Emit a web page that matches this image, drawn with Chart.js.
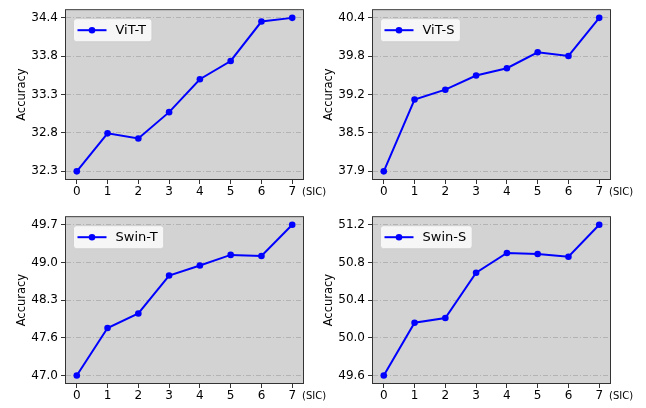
<!DOCTYPE html>
<html>
<head>
<meta charset="utf-8">
<script src="https://cdn.jsdelivr.net/npm/chart.js@4.4.1/dist/chart.umd.min.js"></script>
<style>
  html, body { margin: 0; padding: 0; background: #fff; }
  #wrap { position: relative; width: 646px; height: 408px; overflow: hidden; }
  canvas { position: absolute; }
</style>
</head>
<body>
<div id="wrap">
  <canvas id="vitT" width="320" height="204" style="left:15px;top:0px"></canvas>
  <canvas id="vitS" width="320" height="204" style="left:322px;top:0px"></canvas>
  <canvas id="swinT" width="320" height="201" style="left:15px;top:207px"></canvas>
  <canvas id="swinS" width="320" height="201" style="left:322px;top:207px"></canvas>
</div>
<script>
// x positions (SIC steps)
const sicSteps = [0, 1, 2, 3, 4, 5, 6, 7];

// accuracy per model
const vitTAcc  = [32.30, 32.82, 32.75, 33.11, 33.56, 33.81, 34.35, 34.40];
const vitSAcc  = [37.90, 39.07, 39.23, 39.46, 39.58, 39.84, 39.78, 40.40];
const swinTAcc = [47.00, 47.85, 48.11, 48.79, 48.97, 49.16, 49.14, 49.70];
const swinSAcc = [49.60, 50.16, 50.21, 50.69, 50.90, 50.89, 50.86, 51.20];

// y tick labels (evenly spaced between first and last)
const vitTTicks  = ['32.3', '32.8', '33.3', '33.8', '34.4'];
const vitSTicks  = ['37.9', '38.5', '39.2', '39.8', '40.4'];
const swinTTicks = ['47.0', '47.6', '48.3', '49.0', '49.7'];
const swinSTicks = ['49.6', '50.0', '50.4', '50.8', '51.2'];

const FONT = 'DejaVu Sans';
const BLUE = '#0000ff';

// background, frame, legend and the "(SIC)" note
const panelPlugin = {
    id: 'panel',
    beforeDraw(chart) {
        const { ctx, chartArea: a } = chart;
        ctx.save();
        ctx.fillStyle = '#d3d3d3';
        ctx.fillRect(a.left, a.top, a.right - a.left, a.bottom - a.top);
        ctx.restore();
    },
    afterDraw(chart) {
        const { ctx, chartArea: a } = chart;
        ctx.save();
        // frame
        ctx.strokeStyle = '#333';
        ctx.lineWidth = 1;
        ctx.strokeRect(a.left - 0.5, a.top - 0.5, a.right - a.left + 1, a.bottom - a.top + 1);

        // legend box
        const name = chart.data.datasets[0].label;
        ctx.font = '13px "' + FONT + '"';
        const tw = ctx.measureText(name).width;
        const bx = a.left + 7.5, by = a.top + 8.5, bw = 42 + tw + 6, bh = 23;
        ctx.beginPath();
        ctx.roundRect(bx, by, bw, bh, 3);
        ctx.fillStyle = 'rgba(255,255,255,0.8)';
        ctx.fill();
        ctx.strokeStyle = 'rgba(204,204,204,0.8)';
        ctx.stroke();
        const cy = by + bh / 2;
        ctx.strokeStyle = BLUE;
        ctx.lineWidth = 2;
        ctx.beginPath();
        ctx.moveTo(bx + 4, cy);
        ctx.lineTo(bx + 33, cy);
        ctx.stroke();
        ctx.fillStyle = BLUE;
        ctx.beginPath();
        ctx.arc(bx + 18.5, cy, 3.3, 0, Math.PI * 2);
        ctx.fill();
        ctx.fillStyle = '#000';
        ctx.textBaseline = 'middle';
        ctx.textAlign = 'left';
        ctx.fillText(name, bx + 42, cy + 0.5);

        // x axis note
        ctx.font = '10px "' + FONT + '"';
        ctx.fillText('(SIC)', a.right - 1, a.bottom + 13);
        ctx.restore();
    }
};

function makePanel(id, name, values, tickLabels) {
    const lo = parseFloat(tickLabels[0]);
    const hi = parseFloat(tickLabels[tickLabels.length - 1]);
    const pad = (hi - lo) * 0.05;
    const n = tickLabels.length - 1;

    new Chart(document.getElementById(id).getContext('2d'), {
        type: 'line',
        data: {
            datasets: [{
                label: name,
                data: sicSteps.map((s, i) => ({ x: s, y: values[i] })),
                borderColor: BLUE,
                backgroundColor: BLUE,
                borderWidth: 2,
                pointRadius: 3.3,
                pointBorderWidth: 0,
                pointHoverRadius: 3.3,
                tension: 0,
                fill: false
            }]
        },
        options: {
            responsive: false,
            animation: false,
            devicePixelRatio: 1,
            events: [],
            layout: { padding: { top: 6, right: 32, left: 0, bottom: 0 } },
            plugins: { legend: { display: false }, tooltip: { enabled: false } },
            scales: {
                x: {
                    type: 'linear',
                    min: -0.35,
                    max: 7.35,
                    afterBuildTicks: s => { s.ticks = sicSteps.map(v => ({ value: v })); },
                    afterFit: s => { s.height = 25; },
                    border: { display: false },
                    grid: { drawOnChartArea: false, drawTicks: true, tickLength: 5, tickColor: '#333', tickWidth: 1 },
                    ticks: {
                        color: '#000',
                        font: { family: FONT, size: 12 },
                        padding: 1,
                        maxRotation: 0,
                        autoSkip: false,
                        callback: v => String(v)
                    }
                },
                y: {
                    min: lo - pad,
                    max: hi + pad,
                    afterBuildTicks: s => { s.ticks = tickLabels.map((t, k) => ({ value: lo + k * (hi - lo) / n })); },
                    afterFit: s => { s.width = 51; },
                    // in v4 border.dash styles the grid lines
                    border: { display: false, dash: [5, 2, 1, 2] },
                    grid: {
                        color: '#b3b3b3',
                        lineWidth: 1,
                        tickBorderDash: [],
                        tickColor: '#333',
                        tickLength: 5,
                        tickWidth: 1
                    },
                    ticks: {
                        color: '#000',
                        font: { family: FONT, size: 12 },
                        padding: 3,
                        autoSkip: false,
                        callback: (v, i) => tickLabels[i]
                    },
                    title: {
                        display: true,
                        text: 'Accuracy',
                        color: '#000',
                        font: { family: FONT, size: 11.5 },
                        padding: { top: 0, bottom: 0 }
                    }
                }
            }
        },
        plugins: [panelPlugin]
    });
}

makePanel('vitT', 'ViT-T', vitTAcc, vitTTicks);
makePanel('vitS', 'ViT-S', vitSAcc, vitSTicks);
makePanel('swinT', 'Swin-T', swinTAcc, swinTTicks);
makePanel('swinS', 'Swin-S', swinSAcc, swinSTicks);
</script>
</body>
</html>
